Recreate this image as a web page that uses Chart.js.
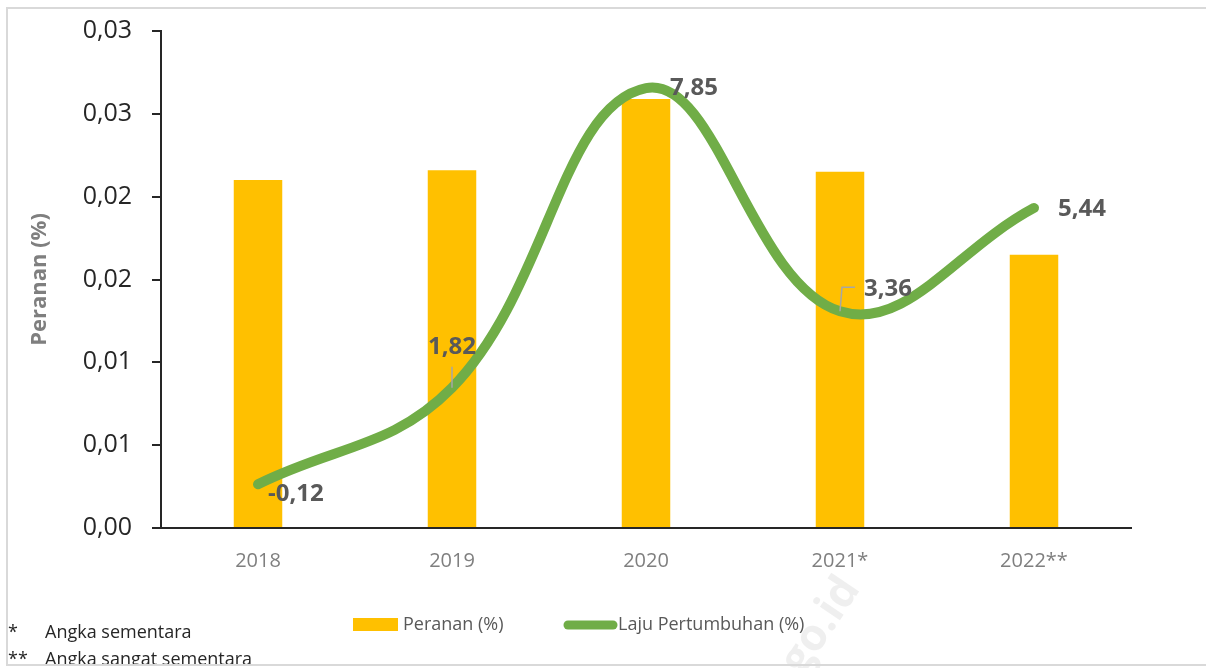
<!DOCTYPE html>
<html>
<head>
<meta charset="utf-8">
<script src="https://cdn.jsdelivr.net/npm/chart.js@4/dist/chart.umd.min.js"></script>
<style>
  body { margin: 0; background: #fff; }
  #wrap { width: 1206px; height: 668px; }
</style>
</head>
<body>
<div id="wrap"><canvas id="myChart" width="1206" height="668"></canvas></div>
<script>
// data
const years = ["2018", "2019", "2020", "2021*", "2022**"];
const peranan = [0.0210, 0.0216, 0.0259, 0.0215, 0.0165];
const laju = [-0.12, 1.82, 7.85, 3.36, 5.44];
const yTickLabels = ["0,00", "0,01", "0,01", "0,02", "0,02", "0,03", "0,03"];
const footnotes = [["*", "Angka sementara"], ["**", "Angka sangat sementara"]];

const FONT = "'Open Sans', sans-serif";

// where each growth label sits relative to its point (dx, dy, align)
const labelPos = [
  { dx: 10, dy: 10, align: "left" },
  { dx: 0, dy: -41, align: "center", leader: [[0, -21], [0, 0]] },
  { dx: 24, dy: 0, align: "left" },
  { dx: 24, dy: -22, align: "left", leader: [[15, -24], [2, -24], [0, 0]] },
  { dx: 24, dy: 1, align: "left" }
];

const extras = {
  id: "extras",
  beforeDraw(chart) {
    const c = chart.ctx;
    c.save();
    // faint watermark
    c.translate(835, 605);
    c.rotate(-Math.PI / 3.2);
    c.fillStyle = "rgba(220,220,220,0.45)";
    c.font = "bold 44px " + FONT;
    c.textAlign = "center";
    c.textBaseline = "middle";
    c.fillText("bps.go.id", -70, 0);
    c.restore();
  },
  afterDatasetsDraw(chart) {
    const c = chart.ctx;
    const meta = chart.getDatasetMeta(1);
    c.save();
    c.font = "bold 24px " + FONT;
    c.fillStyle = "#595959";
    c.textBaseline = "middle";
    meta.data.forEach((pt, i) => {
      const p = labelPos[i];
      if (p.leader) {
        c.strokeStyle = "#a6a6a6";
        c.lineWidth = 1.5;
        c.beginPath();
        p.leader.forEach(([lx, ly], k) => {
          if (k === 0) c.moveTo(pt.x + lx, pt.y + ly);
          else c.lineTo(pt.x + lx, pt.y + ly);
        });
        c.stroke();
      }
      c.textAlign = p.align;
      c.fillText(laju[i].toFixed(2).replace(".", ","), pt.x + p.dx, pt.y + p.dy);
    });
    c.restore();
  },
  afterDraw(chart) {
    const c = chart.ctx;
    c.save();
    // legend
    c.font = "18px " + FONT;
    c.textBaseline = "middle";
    c.textAlign = "left";
    c.fillStyle = "#FFC000";
    c.fillRect(353, 618, 45, 13);
    c.fillStyle = "#595959";
    c.fillText(chart.data.datasets[0].label, 403, 625);
    c.strokeStyle = "#70AD47";
    c.lineWidth = 9;
    c.lineCap = "round";
    c.beginPath();
    c.moveTo(568, 625);
    c.lineTo(613, 625);
    c.stroke();
    c.fillStyle = "#595959";
    c.fillText(chart.data.datasets[1].label, 618, 625);

    // footnotes, cut by the frame
    c.save();
    c.beginPath();
    c.rect(0, 0, 1206, 664);
    c.clip();
    c.font = "18px " + FONT;
    c.fillStyle = "#262626";
    footnotes.forEach(([mark, txt], i) => {
      c.fillText(mark, 8, 633 + i * 27);
      c.fillText(txt, 45, 633 + i * 27);
    });
    c.restore();

    // frame (right edge is off the picture)
    c.strokeStyle = "#d9d9d9";
    c.lineWidth = 2;
    c.beginPath();
    c.moveTo(1206, 8);
    c.lineTo(7, 8);
    c.lineTo(7, 665);
    c.lineTo(1206, 665);
    c.stroke();
    c.restore();
  }
};

new Chart("myChart", {
  data: {
    labels: years,
    datasets: [
      {
        type: "bar",
        label: "Peranan (%)",
        data: peranan,
        backgroundColor: "#FFC000",
        barPercentage: 0.5,
        categoryPercentage: 0.5,
        yAxisID: "y",
        order: 1
      },
      {
        type: "line",
        label: "Laju Pertumbuhan (%)",
        data: laju,
        borderColor: "#70AD47",
        borderWidth: 10,
        borderCapStyle: "round",
        tension: 0.4,
        pointRadius: 0,
        clip: false,
        yAxisID: "y2",
        order: 0
      }
    ]
  },
  options: {
    responsive: false,
    animation: false,
    devicePixelRatio: 1,
    layout: { padding: { top: 31, right: 75, bottom: 0, left: 0 } },
    plugins: {
      legend: { display: false },
      tooltip: { enabled: false }
    },
    scales: {
      x: {
        grid: { display: false, drawTicks: false },
        border: { color: "#262626", width: 2 },
        ticks: { color: "#7f7f7f", font: { family: FONT, size: 20 }, padding: 21 },
        afterFit(s) { s.height = 140; }
      },
      y: {
        position: "left",
        min: 0,
        max: 0.03,
        ticks: {
          stepSize: 0.005,
          color: "#262626",
          font: { family: FONT, size: 25 },
          padding: 20,
          callback: (v, i) => yTickLabels[i]
        },
        grid: { drawOnChartArea: false, drawTicks: true, tickLength: 9, color: "#262626", lineWidth: 2 },
        border: { color: "#262626", width: 2 },
        title: {
          display: true,
          text: "Peranan (%)",
          color: "#7f7f7f",
          font: { family: FONT, size: 22, weight: "bold" },
          padding: { top: 27, bottom: 0 }
        },
        afterFit(s) {
          s.width = 161;
          s.paddingTop = 0;
          s.paddingBottom = 0;
        }
      },
      y2: {
        display: false,
        position: "right",
        min: -1,
        max: 9
      }
    }
  },
  plugins: [extras]
});
</script>
</body>
</html>
